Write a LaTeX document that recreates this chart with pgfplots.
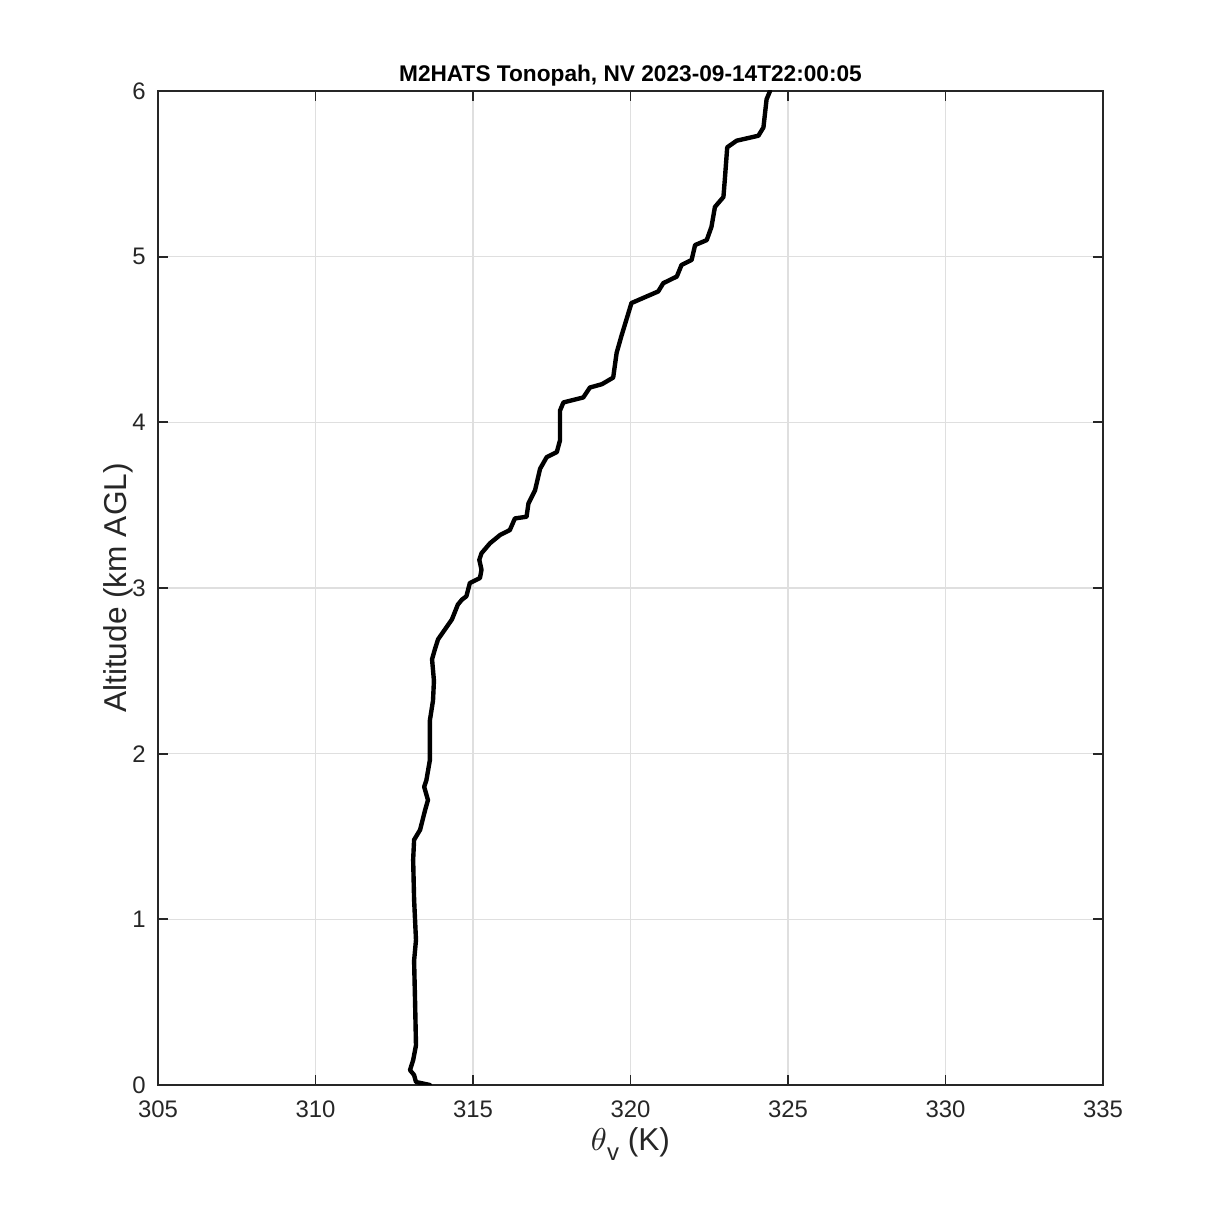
\documentclass[border=0pt]{standalone}
\usepackage{pgfplots}
\pgfplotsset{compat=1.18}
\usepackage{fontspec}
\setmainfont{Liberation Sans}
\definecolor{axgray}{gray}{0.15}
\begin{document}
\begin{tikzpicture}[x=1cm,y=1cm]
\path[use as bounding box] (0,0) rectangle (12.19,12.19);
\begin{axis}[
  at={(1.58cm,1.34cm)}, anchor=south west,
  width=9.45cm, height=9.94cm, scale only axis,
  xmin=305, xmax=335, ymin=0, ymax=6,
  xtick={305,310,...,335}, ytick={0,1,...,6},
  grid=major,
  grid style={gray!25, line width=0.4pt},
  axis line style={axgray, line width=0.5pt},
  tick style={axgray, line width=0.5pt},
  tick align=inside, major tick length=0.1cm,
  xtick pos=both, ytick pos=both,
  ticklabel style={font=\fontsize{6.8}{7}\selectfont, text=axgray},
  /pgf/number format/assume math mode=true,
  /pgf/number format/1000 sep={},
  xticklabel style={yshift=-1pt},
  title={\bfseries M2HATS Tonopah, NV 2023-09-14T22:00:05},
  title style={font=\fontsize{6.45}{8}\selectfont, yshift=-8.3pt},
  xlabel={$\theta$\raisebox{-0.55ex}{\fontsize{6.8}{8}\selectfont v} (K)},
  ylabel={Altitude (km AGL)},
  label style={font=\fontsize{9}{11}\selectfont, text=axgray},
  xlabel style={yshift=4pt},
  ylabel style={yshift=-7pt},
]
\addplot[black, line width=1.25pt, line join=round, line cap=round] coordinates {
(313.63,0.00) (313.19,0.018) (313.13,0.06) (313.00,0.09) (313.10,0.15)
(313.19,0.24) (313.16,0.51) (313.13,0.75) (313.19,0.875) (313.13,1.12)
(313.10,1.36) (313.13,1.48) (313.32,1.54) (313.48,1.66) (313.57,1.72)
(313.45,1.80) (313.52,1.84) (313.63,1.96) (313.63,2.20) (313.73,2.32) (313.76,2.44)
(313.70,2.57) (313.79,2.63) (313.89,2.69) (314.11,2.75) (314.33,2.81)
(314.52,2.90) (314.65,2.93) (314.79,2.95) (314.90,3.03) (315.22,3.06)
(315.27,3.11) (315.20,3.17) (315.27,3.21) (315.54,3.27) (315.86,3.32)
(316.17,3.35) (316.33,3.42) (316.70,3.43) (316.76,3.51) (316.97,3.59)
(317.13,3.72) (317.34,3.79) (317.66,3.82) (317.76,3.89) (317.76,4.00)
(317.76,4.07) (317.87,4.12) (318.50,4.15) (318.71,4.21) (319.09,4.23)
(319.45,4.27) (319.56,4.42) (319.71,4.52) (319.87,4.62) (320.03,4.72)
(320.88,4.79) (321.04,4.84) (321.47,4.88) (321.62,4.95) (321.94,4.98)
(322.05,5.07) (322.42,5.10) (322.57,5.18) (322.68,5.30) (322.95,5.36)
(323.00,5.48) (323.07,5.66) (323.37,5.70) (324.06,5.73) (324.22,5.78)
(324.32,5.95) (324.43,6.00)
};
\end{axis}
\end{tikzpicture}
\end{document}
